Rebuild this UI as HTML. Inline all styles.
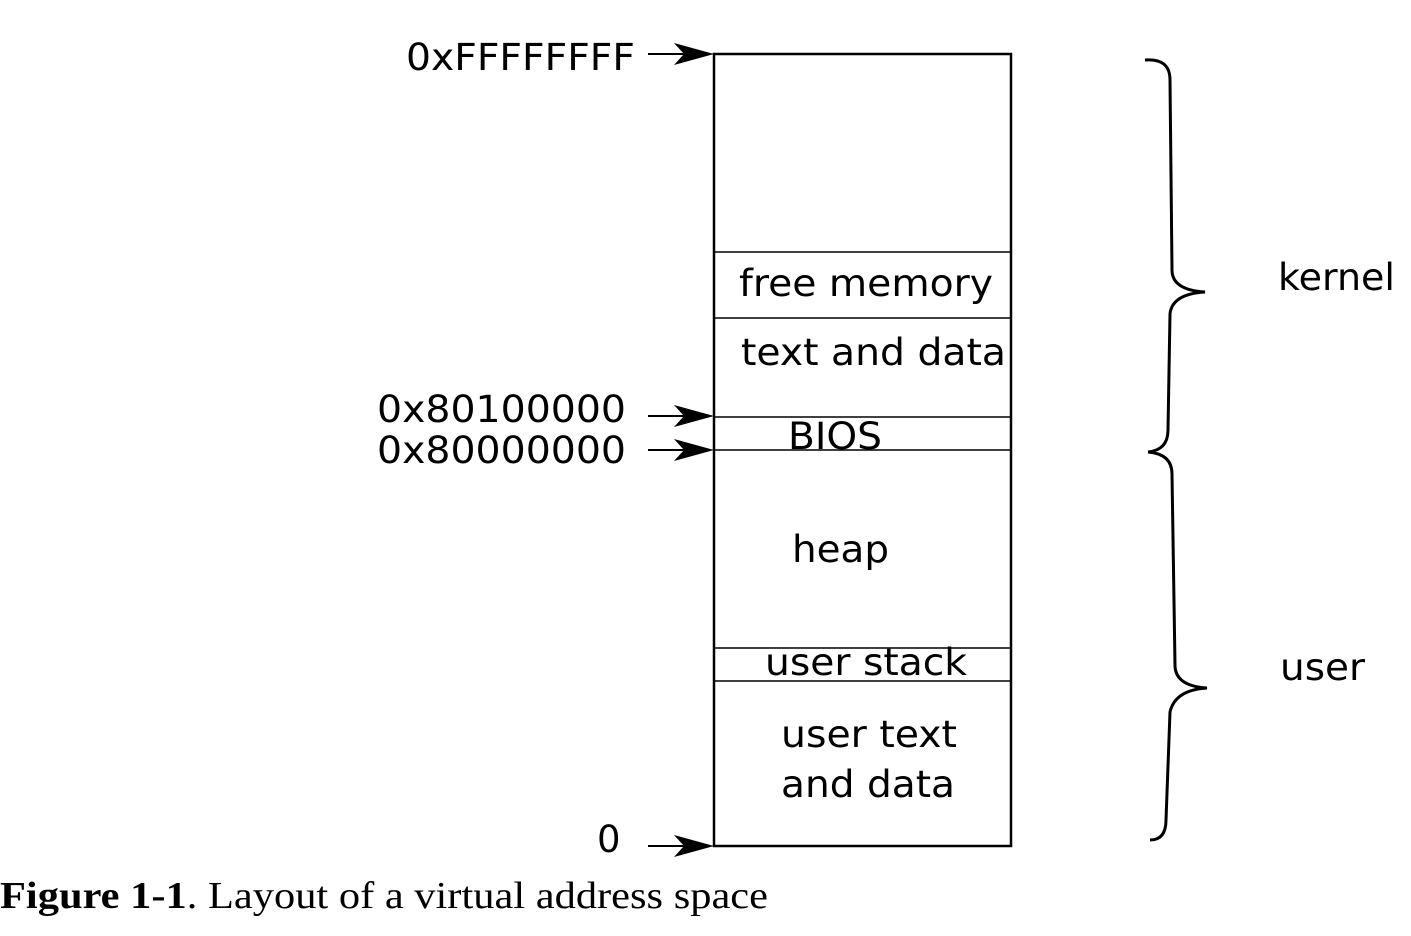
<!DOCTYPE html>
<html><head><meta charset="utf-8"><style>html,body{margin:0;padding:0;background:#fff;}svg{display:block}</style></head>
<body>
<svg width="1411" height="936" viewBox="0 0 1411 936" xmlns="http://www.w3.org/2000/svg">
<defs>
<marker id="ah" markerWidth="10" markerHeight="8" refX="9.5" refY="4" orient="auto" markerUnits="userSpaceOnUse" viewBox="0 0 10 8">
</marker>
</defs>
<g fill="none" stroke="#000">
<rect x="714" y="54" width="297" height="792" stroke-width="2.5"/>
<g stroke-width="1.5">
<line x1="714" y1="252" x2="1011" y2="252"/>
<line x1="714" y1="318" x2="1011" y2="318"/>
<line x1="714" y1="417" x2="1011" y2="417"/>
<line x1="714" y1="450" x2="1011" y2="450"/>
<line x1="714" y1="648" x2="1011" y2="648"/>
<line x1="714" y1="681" x2="1011" y2="681"/>
</g>
<g stroke-width="2">
<line x1="648" y1="54" x2="700" y2="54"/>
<line x1="648" y1="416" x2="700" y2="416"/>
<line x1="648" y1="450" x2="700" y2="450"/>
<line x1="648" y1="846" x2="700" y2="846"/>
</g>
<g stroke-width="3">
<path d="M1145,60 Q1170,58 1170,80 L1172,270 Q1172,290 1205,292 Q1172,294 1170,314 L1168,430 Q1168,450 1148,452"/>
<path d="M1148,452 Q1172,454 1172,474 L1175,665 Q1175,686 1207,688 Q1175,690 1170,712 L1166,820 Q1166,840 1150,840"/>
</g>
</g>
<g fill="#000">
<path d="M714,54 L674,43 L684,54 L674,65 Z"/>
<path d="M714,416 L674,405 L684,416 L674,427 Z"/>
<path d="M714,450 L674,439 L684,450 L674,461 Z"/>
<path d="M714,846 L674,835 L684,846 L674,857 Z"/>
</g>
<g font-family="'DejaVu Sans','Liberation Sans',sans-serif" font-size="37" fill="#000">
<text x="406" y="70" textLength="229" lengthAdjust="spacingAndGlyphs">0xFFFFFFFF</text>
<text x="377" y="422" textLength="249" lengthAdjust="spacingAndGlyphs">0x80100000</text>
<text x="377" y="463" textLength="249" lengthAdjust="spacingAndGlyphs">0x80000000</text>
<text x="597" y="852">0</text>
<text x="739" y="296" textLength="254" lengthAdjust="spacingAndGlyphs">free memory</text>
<text x="741" y="365" textLength="265" lengthAdjust="spacingAndGlyphs">text and data</text>
<text x="788" y="449" textLength="94" lengthAdjust="spacingAndGlyphs">BIOS</text>
<text x="792" y="562" textLength="97" lengthAdjust="spacingAndGlyphs">heap</text>
<text x="765" y="675" textLength="202" lengthAdjust="spacingAndGlyphs">user stack</text>
<text x="781" y="747" textLength="176" lengthAdjust="spacingAndGlyphs">user text</text>
<text x="781" y="797" textLength="174" lengthAdjust="spacingAndGlyphs">and data</text>
<text x="1278" y="290" textLength="117" lengthAdjust="spacingAndGlyphs">kernel</text>
<text x="1280" y="680" textLength="85" lengthAdjust="spacingAndGlyphs">user</text>
</g>
<text x="0" y="908" font-family="'Liberation Serif',serif" font-size="38" fill="#000" textLength="768" lengthAdjust="spacingAndGlyphs"><tspan font-weight="bold">Figure 1-1</tspan>.  Layout of a virtual address space</text>
</svg>
</body></html>
